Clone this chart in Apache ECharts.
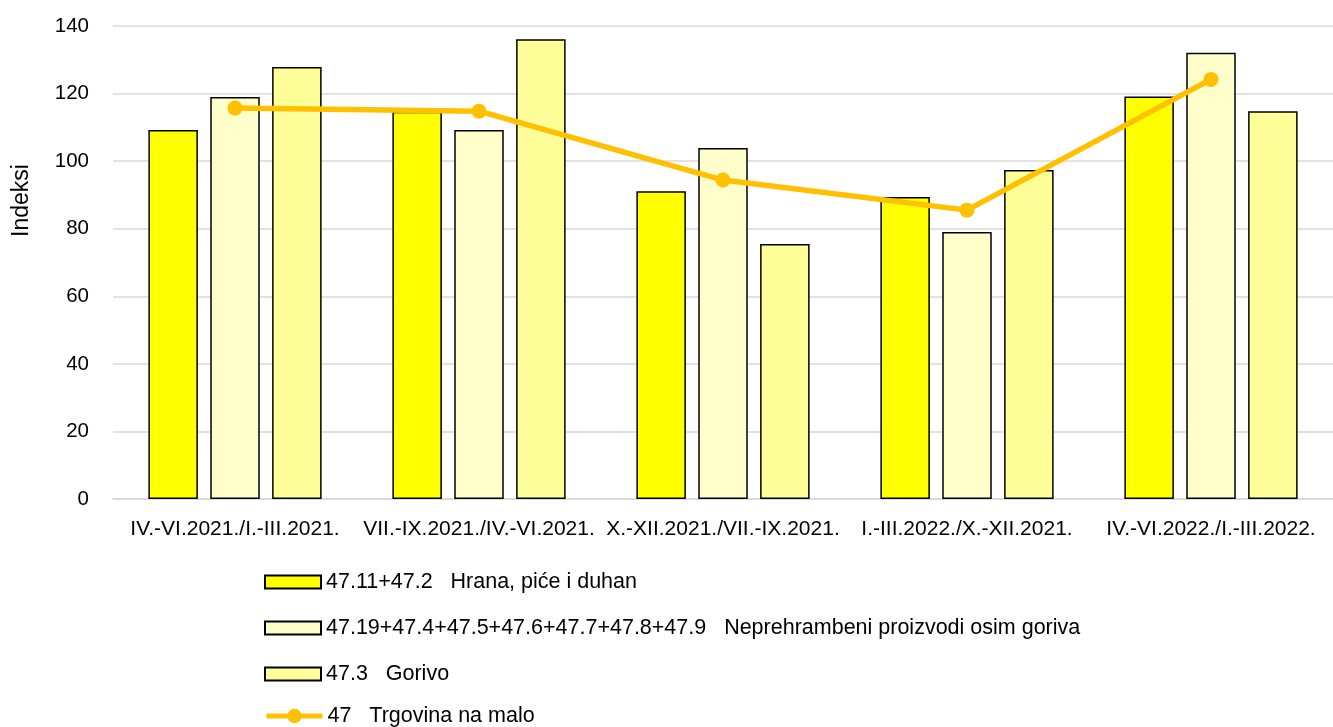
<!DOCTYPE html>
<html><head><meta charset="utf-8">
<script src="https://cdn.jsdelivr.net/npm/echarts@6/dist/echarts.min.js"></script>
<style>html,body{margin:0;padding:0;background:#fff}#c{width:1333px;height:727px}</style>
</head><body><div id="c"></div>
<script>
const categories = ['IV.-VI.2021./I.-III.2021.', 'VII.-IX.2021./IV.-VI.2021.', 'X.-XII.2021./VII.-IX.2021.', 'I.-III.2022./X.-XII.2021.', 'IV.-VI.2022./I.-III.2022.'];
const hrana = [109.2, 114.6, 91.1, 89.4, 119.1];
const neprehrambeni = [119.0, 109.2, 103.9, 79.0, 132.1];
const gorivo = [127.9, 136.1, 75.5, 97.4, 114.8];
const trgovina = [115.7, 114.8, 94.4, 85.5, 124.2];
const names = ['47.11+47.2   Hrana, piće i duhan', '47.19+47.4+47.5+47.6+47.7+47.8+47.9   Neprehrambeni proizvodi osim goriva', '47.3   Gorivo', '47   Trgovina na malo'];

const font = '"Liberation Sans", Arial, sans-serif';
const chart = echarts.init(document.getElementById('c'));
const barStyle = c => ({color: c, borderColor: '#000', borderWidth: 1.5});
const legendTops = [571, 617, 663, 705];
const legends = names.map((n, i) => ({
  orient: 'vertical', left: 264, top: legendTops[i], itemWidth: 56, itemHeight: i < 3 ? 13 : 18, itemGap: 4,
  padding: 0,
  icon: i < 3 ? 'rect' : undefined,
  lineStyle: {width: 5},
  textStyle: {fontSize: 21.5, color: '#000', fontFamily: font},
  data: [n]
}));
chart.setOption({
  animation: false,
  textStyle: {fontFamily: font},
  grid: {left: 113, right: 0, top: 26, bottom: 228},
  legend: legends,
  xAxis: {
    type: 'category', data: categories,
    axisLine: {lineStyle: {color: '#d9d9d9', width: 1.5}},
    axisTick: {show: false},
    axisLabel: {fontSize: 21, color: '#000', margin: 20, interval: 0, fontFamily: font}
  },
  yAxis: {
    type: 'value', min: 0, max: 140, interval: 20,
    name: 'Indeksi', nameLocation: 'middle', nameGap: 80, nameRotate: 90,
    nameTextStyle: {fontSize: 23, color: '#000', fontFamily: font, padding: [0, 0, 0, 124]},
    axisLabel: {fontSize: 20.5, color: '#000', margin: 24, fontFamily: font},
    splitLine: {lineStyle: {color: '#d9d9d9', width: 1.5}},
    axisLine: {show: false}, axisTick: {show: false}
  },
  series: [
    {name: names[0], type: 'bar', data: hrana, itemStyle: barStyle('#FFFF00'), barGap: '25%', barCategoryGap: '29%'},
    {name: names[1], type: 'bar', data: neprehrambeni, itemStyle: barStyle('#FFFFCC')},
    {name: names[2], type: 'bar', data: gorivo, itemStyle: barStyle('#FFFF99')},
    {name: names[3], type: 'line', data: trgovina, symbol: 'circle', symbolSize: 15,
     lineStyle: {color: '#FFC000', width: 5.5}, itemStyle: {color: '#FFC000'}}
  ]
});
</script></body></html>
